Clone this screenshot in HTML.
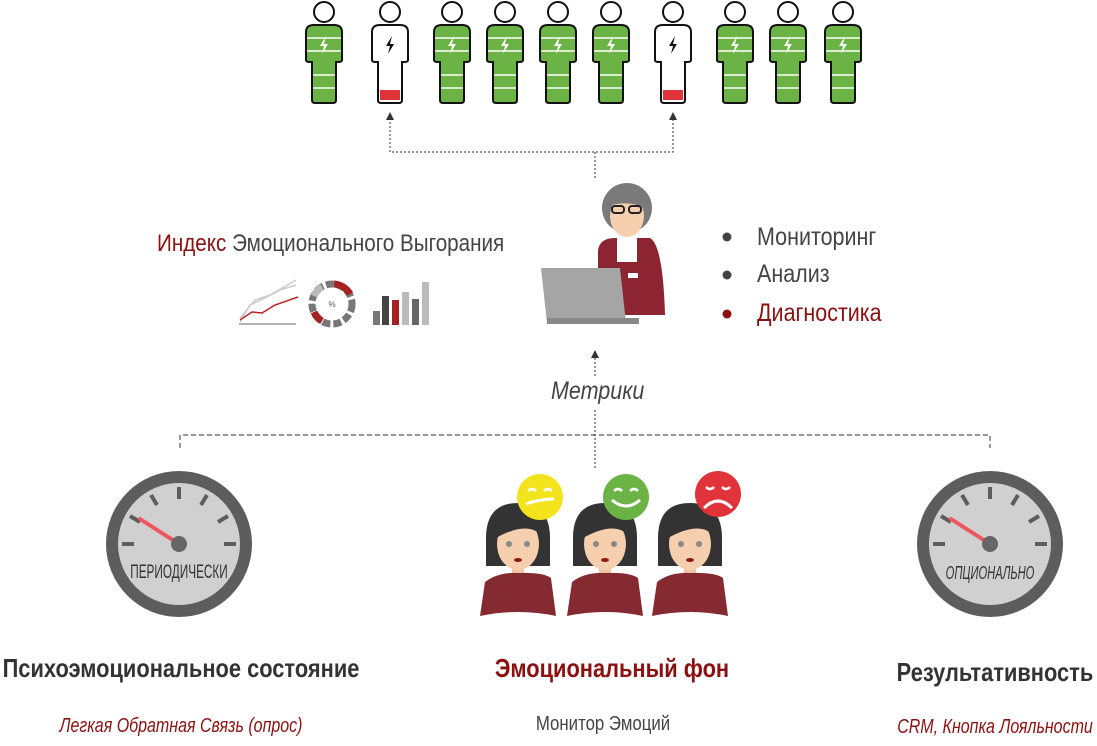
<!DOCTYPE html>
<html><head><meta charset="utf-8"><style>
body{margin:0;width:1097px;height:746px;background:#fff;overflow:hidden;position:relative;font-family:"Liberation Sans",sans-serif}
.t{position:absolute;white-space:nowrap;line-height:1}
.l{transform:scaleX(.86);transform-origin:0 0}
.c{transform:scaleX(.84);transform-origin:50% 0}
</style></head><body>
<svg width="1097" height="746" style="position:absolute;left:0;top:0">
<defs>
<g id="pg">
<circle cx="0" cy="12" r="10" fill="#fff" stroke="#111" stroke-width="2"/>
<path d="M-18,32 Q-18,25 -10,25 L10,25 Q18,25 18,32 L18,60 Q18,62 14,62 L12,62 L12,100 Q12,103 9,103 L-9,103 Q-12,103 -12,100 L-12,62 L-14,62 Q-18,62 -18,60 Z" fill="#6ab344" stroke="#111" stroke-width="2"/>
<g stroke="#fff" stroke-width="1.5"><line x1="-17" y1="38" x2="17" y2="38"/><line x1="-17" y1="51" x2="17" y2="51"/><line x1="-11" y1="75" x2="11" y2="75"/><line x1="-11" y1="88" x2="11" y2="88"/></g>
<path d="M2,36 L-4,46 L0,46 L-2,54 L4,44 L0,44 Z" fill="#fff"/>
</g>
<g id="pw">
<circle cx="0" cy="12" r="10" fill="#fff" stroke="#111" stroke-width="2"/>
<path d="M-18,32 Q-18,25 -10,25 L10,25 Q18,25 18,32 L18,60 Q18,62 14,62 L12,62 L12,100 Q12,103 9,103 L-9,103 Q-12,103 -12,100 L-12,62 L-14,62 Q-18,62 -18,60 Z" fill="#fff" stroke="#111" stroke-width="2"/>
<rect x="-10" y="90" width="20" height="10" fill="#e0333a"/>
<path d="M2,36 L-4,46 L0,46 L-2,54 L4,44 L0,44 Z" fill="#111"/>
</g>
<g id="gauge">
<circle r="73" fill="#5d5d5d"/><circle r="61" fill="#d0d0d0"/>
<g stroke="#5d5d5d" stroke-width="4">
<line x1="-57" y1="0" x2="-45" y2="0"/><line x1="57" y1="0" x2="45" y2="0"/>
<line x1="0" y1="-57" x2="0" y2="-45"/>
<line x1="-49" y1="-28" x2="-39" y2="-22"/><line x1="49" y1="-28" x2="39" y2="-22"/>
<line x1="-28" y1="-49" x2="-22" y2="-39"/><line x1="28" y1="-49" x2="22" y2="-39"/>
</g>
<line x1="0" y1="0" x2="-39" y2="-25" stroke="#f0545c" stroke-width="4" stroke-linecap="round"/>
<circle r="8" fill="#666"/>
</g>
<g id="wm">
<path d="M-32,-10 Q-32,-45 0,-45 Q32,-45 32,-10 L32,18 L-32,18 Z" fill="#333"/>
<rect x="-6" y="10" width="12" height="16" fill="#f2c6a4"/>
<ellipse cx="0" cy="-4" rx="21" ry="26" fill="#f6cfae"/>
<path d="M-22,-10 Q-15,-40 10,-38 Q24,-30 24,-12 Q10,-28 -22,-10Z" fill="#333"/>
<circle cx="-9" cy="-4" r="3" fill="#888"/><circle cx="9" cy="-4" r="3" fill="#888"/>
<ellipse cx="0" cy="12" rx="4" ry="2" fill="#8b1a1a"/>
<path d="M-38,68 L-33,34 Q-20,24 0,25 Q25,24 33,30 L38,68 Q0,60 -38,68Z" fill="#862a32"/>
</g>
</defs>
<use href="#pg" x="324"/><use href="#pw" x="390"/><use href="#pg" x="452"/><use href="#pg" x="505"/><use href="#pg" x="558"/><use href="#pg" x="611"/><use href="#pw" x="673"/><use href="#pg" x="735"/><use href="#pg" x="788"/><use href="#pg" x="843"/>
<g stroke="#333" stroke-width="1" fill="none" stroke-dasharray="2,2">
<path d="M390,118 V152 H673 V118"/><path d="M595,152 V180"/>
<path d="M595,358 V378"/><path d="M595,410 V470"/>
<path d="M180,448 V435 H990 V448" stroke-dasharray="5,3"/>
</g>
<g fill="#333"><path d="M386,120 L390,112 L394,120Z"/><path d="M669,120 L673,112 L677,120Z"/><path d="M591,358 L595,350 L599,358Z"/></g>
<path d="M598,250 Q600,238 615,238 L650,238 Q663,245 665,315 L598,315 Z" fill="#8c2431"/>
<rect x="617" y="236" width="20" height="26" fill="#fff"/>
<circle cx="627" cy="208" r="25" fill="#7a7a7a"/>
<ellipse cx="627" cy="216" rx="17" ry="21" fill="#f6cfae"/>
<path d="M606,206 Q612,184 630,186 Q650,190 648,214 Q640,198 606,206Z" fill="#7a7a7a"/>
<rect x="612" y="206" width="12" height="7" rx="3" fill="none" stroke="#222" stroke-width="2"/><rect x="629" y="206" width="12" height="7" rx="3" fill="none" stroke="#222" stroke-width="2"/>
<rect x="628" y="273" width="10" height="5" fill="#fff"/>
<path d="M541,268 L620,268 L626,323 L547,323 Z" fill="#a5a5a5"/>
<rect x="547" y="318" width="92" height="6" fill="#888"/>
<g fill="none" stroke-width="1.5"><path d="M240,322 L250,305 L265,298 L280,290 L296,285" stroke="#ccc"/><path d="M240,318 L255,300 L270,295 L296,280" stroke="#ccc"/><path d="M240,320 L252,312 L262,313 L275,305 L298,297" stroke="#b22"/><line x1="239" y1="324" x2="296" y2="324" stroke="#999"/></g>
<g fill="none" stroke-width="7"><circle cx="332" cy="304" r="20" stroke="#777" stroke-dasharray="8,3"/><path d="M334,284 A20,20 0 0 1 350,294" stroke="#a52222"/><path d="M314,312 A20,20 0 0 0 322,321" stroke="#a52222"/><path d="M314,296 A20,20 0 0 1 322,287" stroke="#bbb"/></g>
<text x="332" y="307" font-size="8" text-anchor="middle" fill="#555">%</text>
<rect x="373" y="311" width="7" height="14" fill="#777"/><rect x="382" y="296" width="7" height="29" fill="#444"/><rect x="392" y="300" width="7" height="25" fill="#a52222"/><rect x="402" y="292" width="7" height="33" fill="#bbb"/><rect x="412" y="299" width="7" height="26" fill="#666"/><rect x="422" y="282" width="7" height="43" fill="#bbb"/>
<use href="#gauge" x="179" y="544"/><use href="#gauge" x="990" y="544"/>
<use href="#wm" x="518" y="548"/><use href="#wm" x="605" y="548"/><use href="#wm" x="690" y="548"/>
<circle cx="540" cy="497" r="23" fill="#f2e31d"/><path d="M526,504 Q540,499 554,499" stroke="#fff" stroke-width="3" fill="none"/><path d="M528,491 Q532,487 536,491 M544,491 Q548,487 552,491" stroke="#fff" stroke-width="2.5" fill="none"/>
<circle cx="626" cy="497" r="23" fill="#6ab344"/><path d="M612,500 Q626,512 640,500" stroke="#fff" stroke-width="3" fill="none"/><path d="M614,491 Q618,487 622,491 M630,491 Q634,487 638,491" stroke="#fff" stroke-width="2.5" fill="none"/>
<circle cx="718" cy="494" r="23" fill="#e0333a"/><path d="M704,508 Q718,494 732,508" stroke="#fff" stroke-width="3" fill="none"/><path d="M706,487 Q710,491 714,487 M722,487 Q726,491 730,487" stroke="#fff" stroke-width="2.5" fill="none"/>
<circle cx="727" cy="237" r="4.5" fill="#444"/><circle cx="727" cy="275" r="4.5" fill="#444"/><circle cx="727" cy="314" r="4.5" fill="#8b1010"/>
</svg>
<div class="t l" style="left:157px;top:232px;font-size:24px;color:#444"><span style="color:#8b1010">Индекс</span> Эмоционального Выгорания</div>
<div class="t l" style="left:757px;top:225px;font-size:25px;color:#444">Мониторинг</div>
<div class="t l" style="left:757px;top:262px;font-size:25px;color:#444">Анализ</div>
<div class="t l" style="left:757px;top:301px;font-size:25px;color:#8b1010">Диагностика</div>
<div class="t l" style="left:551px;top:379px;font-size:25px;color:#444;font-style:italic">Метрики</div>
<div class="t" style="left:79px;top:563px;width:200px;text-align:center;font-size:19px;color:#333;transform:scaleX(.62)">ПЕРИОДИЧЕСКИ</div>
<div class="t" style="left:890px;top:564px;width:200px;text-align:center;font-size:18px;color:#333;font-style:italic;transform:scaleX(.62)">ОПЦИОНАЛЬНО</div>
<div class="t c" style="left:-31px;top:655px;width:420px;text-align:center;font-size:26px;font-weight:bold;color:#333">Психоэмоциональное состояние</div>
<div class="t c" style="left:462px;top:655px;width:300px;text-align:center;font-size:26px;font-weight:bold;color:#8b1010">Эмоциональный фон</div>
<div class="t c" style="left:870px;top:659px;width:250px;text-align:center;font-size:26px;font-weight:bold;color:#333">Результативность</div>
<div class="t" style="left:21px;top:716px;width:320px;text-align:center;font-size:20px;font-style:italic;color:#8b1010;transform:scaleX(.8)">Легкая Обратная Связь (опрос)</div>
<div class="t c" style="left:483px;top:714px;width:240px;text-align:center;font-size:20px;color:#444">Монитор Эмоций</div>
<div class="t" style="left:860px;top:717px;width:270px;text-align:center;font-size:20px;font-style:italic;color:#8b1010;transform:scaleX(.8)">CRM, Кнопка Лояльности</div>
</body></html>
